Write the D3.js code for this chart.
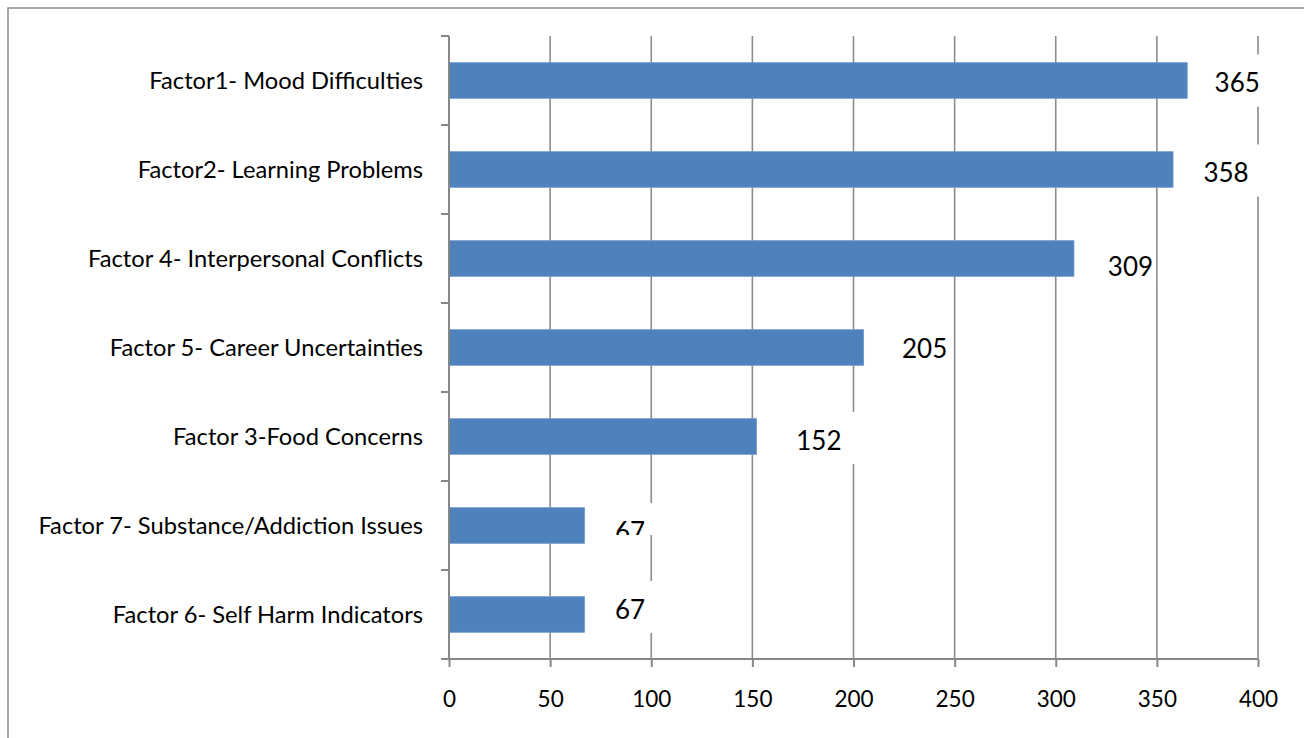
<!DOCTYPE html>
<html>
<head>
<meta charset="utf-8">
<script src="https://cdn.jsdelivr.net/npm/d3@7"></script>
<style>
  html, body { margin: 0; padding: 0; background: #fff; }
  svg { display: block; }
</style>
</head>
<body>
<svg id="chart" width="1304" height="738"></svg>
<script>
// Factor counts, listed top to bottom
const categories = [
  "Factor1- Mood Difficulties",
  "Factor2- Learning Problems",
  "Factor 4- Interpersonal Conflicts",
  "Factor 5- Career Uncertainties",
  "Factor 3-Food Concerns",
  "Factor 7- Substance/Addiction Issues",
  "Factor 6- Self Harm Indicators"
];
const counts = [365, 358, 309, 205, 152, 67, 67];
const xTicks = [0, 50, 100, 150, 200, 250, 300, 350, 400];

// Hand-placed data label offsets (from bar end / row centre) and box padding
const labelLayout = [
  { dx: 50,   dy: 2,    padR: 12, cut: 0 },
  { dx: 53,   dy: 3,    padR: 14, cut: 0 },
  { dx: 56.5, dy: 8,    padR: 3,  cut: 0 },
  { dx: 61,   dy: 1,    padR: 5,  cut: 0 },
  { dx: 62.5, dy: 3.5,  padR: 16, cut: 0 },
  { dx: 45.5, dy: 5.5,  padR: 10, cut: 20 },
  { dx: 45.5, dy: -5.5, padR: 10, cut: 0 }
];

const FONT = "Lato, 'Open Sans', sans-serif";
const svg = d3.select("#chart");

const plot = { left: 449, right: 1258, top: 36, bottom: 659 };
const x = d3.scaleLinear().domain([0, 400]).range([plot.left, plot.right]);
const y = d3.scaleBand().domain(categories).range([plot.top, plot.bottom])
  .paddingInner(0.6).paddingOuter(0.3);
const rows = d3.scaleBand().domain(categories).range([plot.top, plot.bottom]);

// Chart frame (top and left edges)
svg.append("path")
  .attr("d", "M8,738 L8,8 L1304,8")
  .attr("fill", "none").attr("stroke", "#8a8a8a").attr("stroke-width", 1.5);

// Vertical gridlines
svg.append("g").selectAll("line").data(xTicks.slice(1)).join("line")
  .attr("x1", d => x(d)).attr("x2", d => x(d))
  .attr("y1", plot.top).attr("y2", plot.bottom)
  .attr("stroke", "#8c8c8c").attr("stroke-width", 1.6);

// Bars
svg.append("g").selectAll("rect").data(categories).join("rect")
  .attr("x", x(0))
  .attr("y", d => y(d))
  .attr("width", (d, i) => x(counts[i]) - x(0))
  .attr("height", y.bandwidth())
  .attr("fill", "#4f81bd")
  .attr("stroke", "#6d97cc").attr("stroke-width", 0.8);

// Bottom axis
const xAxis = d3.axisBottom(x).tickValues(xTicks).tickSize(8).tickSizeOuter(0).tickPadding(24);
const gx = svg.append("g").attr("transform", `translate(0,${plot.bottom})`).call(xAxis);
gx.select(".domain").remove();
gx.selectAll(".tick line").attr("stroke", "#878787").attr("stroke-width", 2);
gx.selectAll(".tick text")
  .attr("font-family", FONT).attr("font-size", 22.5).attr("fill", "#000");
svg.append("line")
  .attr("x1", plot.left - 8).attr("x2", plot.right)
  .attr("y1", plot.bottom).attr("y2", plot.bottom)
  .attr("stroke", "#878787").attr("stroke-width", 2);

// Left axis: line plus ticks at category boundaries
svg.append("line")
  .attr("x1", plot.left).attr("x2", plot.left)
  .attr("y1", plot.top).attr("y2", plot.bottom)
  .attr("stroke", "#878787").attr("stroke-width", 2);
const bounds = categories.map(c => rows(c)).concat([plot.bottom]);
svg.append("g").selectAll("line").data(bounds).join("line")
  .attr("x1", plot.left - 8).attr("x2", plot.left)
  .attr("y1", d => d).attr("y2", d => d)
  .attr("stroke", "#878787").attr("stroke-width", 2);

// Category labels
svg.append("g").selectAll("text").data(categories).join("text")
  .attr("x", plot.left - 26)
  .attr("y", d => rows(d) + rows.bandwidth() / 2 + 8)
  .attr("text-anchor", "end")
  .attr("font-family", FONT).attr("font-size", 23.7).attr("fill", "#000")
  .text(d => d);

// Value labels on white boxes
const defs = svg.append("defs");
const lbl = svg.append("g");
categories.forEach((c, i) => {
  const L = labelLayout[i];
  const cx = x(counts[i]) + L.dx;
  const cy = rows(c) + rows.bandwidth() / 2 + L.dy;
  const t = lbl.append("text")
    .attr("x", cx).attr("y", cy + 9.5)
    .attr("text-anchor", "middle")
    .attr("font-family", FONT).attr("font-size", 26).attr("fill", "#000")
    .text(counts[i]);
  const w = t.node().getComputedTextLength();
  const bx = cx - w / 2 - 12, by = cy - 2 - 26;
  const bw = w + 12 + L.padR, bh = 52 - L.cut;
  defs.append("clipPath").attr("id", "lblclip" + i)
    .append("rect").attr("x", bx).attr("y", by).attr("width", bw).attr("height", bh);
  lbl.insert("rect", () => t.node())
    .attr("x", bx).attr("y", by).attr("width", bw).attr("height", bh)
    .attr("fill", "#fff");
  t.attr("clip-path", `url(#lblclip${i})`);
});
</script>
</body>
</html>
